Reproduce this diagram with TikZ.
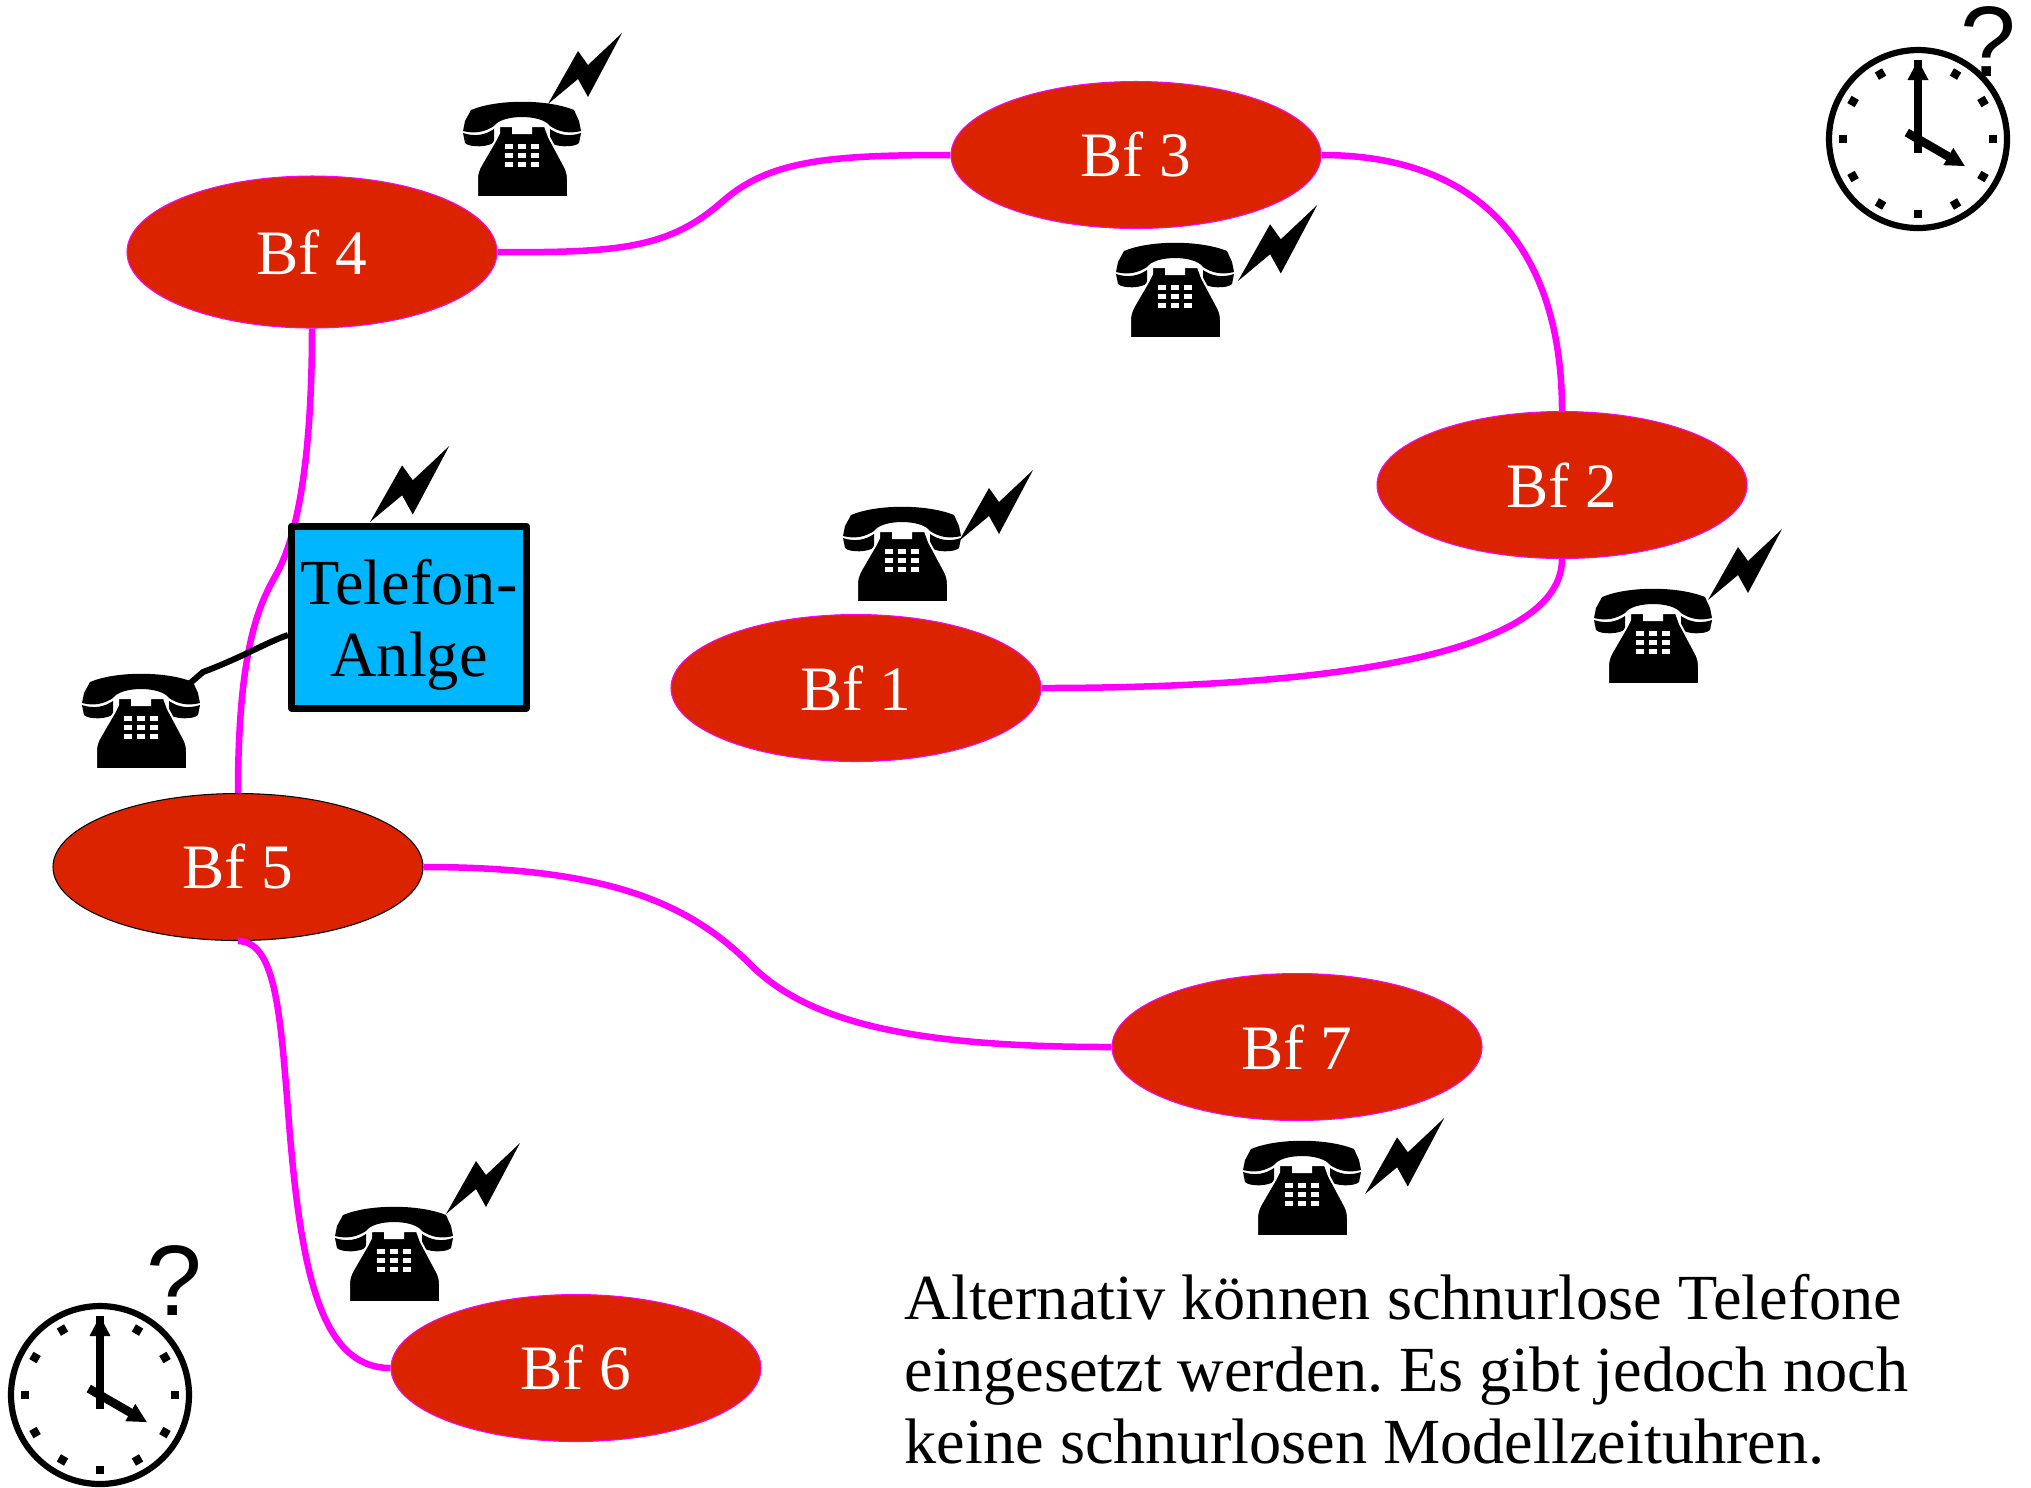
\documentclass[tikz,border=0pt]{standalone}
\usepackage{fontspec}
\setmainfont{Liberation Serif}
\newfontfamily\qfont{Liberation Sans}
\usepackage{xcolor}
\usepackage{tikz}
\usetikzlibrary{shapes.geometric}
\definecolor{bfred}{RGB}{220,35,0}
\definecolor{tkblue}{RGB}{0,183,255}
\definecolor{linemag}{RGB}{255,0,255}
\tikzset{
  bf/.style = {ellipse, fill=bfred, draw=linemag, line width=0.3pt, inner sep=0pt,
    minimum width=37mm, minimum height=14.7mm, text=white, font=\fontsize{18}{20.5}\selectfont},
  bfblack/.style = {bf, draw=black},
  tkbox/.style = {rectangle, fill=tkblue, draw=black, line width=0.7mm, line join=round, inner sep=0pt,
    minimum width=23.5mm, minimum height=18.2mm, align=center, font=\fontsize{18.3}{20.5}\selectfont},
  gleis/.style = {draw=linemag, line width=0.65mm},
  qmark/.style = {inner sep=0pt, font=\qfont\fontsize{28.5}{28.5}\selectfont},
  phone/.pic = {
    \fill (-51,-87) .. controls (-25,-98) and (25,-98) .. (52,-87) -- (57,-76) -- (59,-66)
      .. controls (47,-63) and (37,-65) .. (28,-71) .. controls (20,-83) and (-20,-83) .. (-28,-71)
      .. controls (-37,-65) and (-47,-63) .. (-59,-66) -- (-57,-76) -- cycle;
    \fill (-59,-64) .. controls (-47,-60) and (-37,-62) .. (-28,-68) -- (-28,-55)
      .. controls (-32,-50) and (-52,-49) .. (-57,-54) -- cycle;
    \fill (59,-64) .. controls (47,-60) and (37,-62) .. (28,-68) -- (28,-55)
      .. controls (32,-50) and (52,-49) .. (57,-54) -- cycle;
    \fill[draw=white, line width=0.2mm] (-23,-71) -- (-9,-71) -- (-9,-64) -- (9,-64) -- (9,-71) -- (23,-71) -- (27,-60)
      -- (42,-32) .. controls (45,-27) and (46,-22) .. (46,-18) -- (46,0) -- (-45,0) -- (-45,-18)
      .. controls (-45,-22) and (-44,-27) .. (-41,-32) -- (-27,-56) -- (-23,-64) -- cycle;
    \foreach \x in {-13,0,13}{
      \foreach \y in {-50.5,-41.5,-32.5}{
        \fill[white] (\x-4,\y-2.7) rectangle (\x+4,\y+2.7);
      }
    }
    \coordinate (-wire) at (47,-84);
  },
  blitz/.pic = {
    \fill (0,0) -- (30,-53) -- (40,-39) -- (74,-71) -- (40,-7) -- (30,-25) -- cycle;
  },
  uhr/.pic = {
    \draw[line width=0.62mm] (0,0) circle (89);
    \foreach \a in {0,30,...,330}{
      \fill[rotate=\a] (-4.2,-79.2) rectangle (4.2,-70.8);
    }
    \fill (-4.3,13.7) rectangle (4.3,-60);
    \fill (-10.5,-59) -- (0,-79) -- (10.5,-59) -- cycle;
    \fill[rotate=-120] (-4.3,13) rectangle (4.3,-36);
    \fill[rotate=-120] (-10,-35) -- (0,-54) -- (10,-35) -- cycle;
  }
}
\begin{document}
\frenchspacing
\begin{tikzpicture}[x=0.1mm, y=-0.1mm]
\useasboundingbox (0,0) rectangle (2031,1487);
\node[bf, minimum height=15.2mm] (bfvier) at (312,252) {Bf 4};
\node[bf] (bfdrei) at (1136,155) {Bf 3};
\node[bf] (bfzwei) at (1562,485) {Bf 2};
\node[bf] (bfeins) at (856,688) {Bf 1};
\node[bfblack] (bffuenf) at (238,867) {Bf 5};
\node[bf] (bfsieben) at (1297,1047) {Bf 7};
\node[bf] (bfsechs) at (576,1368) {Bf 6};

\draw[gleis] (bfvier.east) .. controls (620,253) and (670,248) .. (723,201) .. controls (770,160) and (830,155) .. (bfdrei.west);
\draw[gleis] (bfdrei.east) .. controls (1490,155) and (1562,260) .. (bfzwei.north);
\draw[gleis] (bfzwei.south) .. controls (1562,650) and (1350,688) .. (bfeins.east);
\draw[gleis] (bfvier.south) .. controls (312,430) and (303,525) .. (277,573) .. controls (262,600) and (238,640) .. (bffuenf.north);
\draw[gleis] (bffuenf.east) .. controls (610,867) and (690,904) .. (751,965) .. controls (812,1026) and (925,1047) .. (bfsieben.west);
\draw[gleis] (bffuenf.south) .. controls (275,941) and (280,1010) .. (288,1110) .. controls (300,1270) and (320,1368) .. (bfsechs.west);

\node[tkbox] (tk) at (409,617) {\rule{0pt}{17.5pt}Telefon-\\Anlge};

\pic at (522,197) {phone};
\pic at (1175,338) {phone};
\pic at (902,602) {phone};
\pic at (1653,684) {phone};
\pic (phtk) at (141,769) {phone};
\pic at (394,1302) {phone};
\pic at (1302,1236) {phone};

\pic at (548,104) {blitz};
\pic[scale=1.07] at (1238,281) {blitz};
\pic at (959,541) {blitz};
\pic at (1708,600) {blitz};
\pic[scale=1.07] at (370,522) {blitz};
\pic at (446,1214) {blitz};
\pic[scale=1.07] at (1365,1194) {blitz};

\draw[line width=0.6mm] ([yshift=-1.8mm]tk.west) .. controls (265,643) and (243,657) .. (203,672) -- (phtk-wire);

\pic at (1918,139) {uhr};
\pic at (100,1395) {uhr};
\node[qmark] (frageoben) at (1988,42) {?};
\node[qmark] (frageunten) at (174,1280) {?};

\node[anchor=west, align=left, inner sep=0pt, font=\fontsize{18.3}{20.5}\selectfont] (hinweis) at (904,1369)
  {Alternativ können schnurlose Telefone\\eingesetzt werden. Es gibt jedoch noch\\keine schnurlosen Modellzeituhren.};
\end{tikzpicture}
\end{document}
